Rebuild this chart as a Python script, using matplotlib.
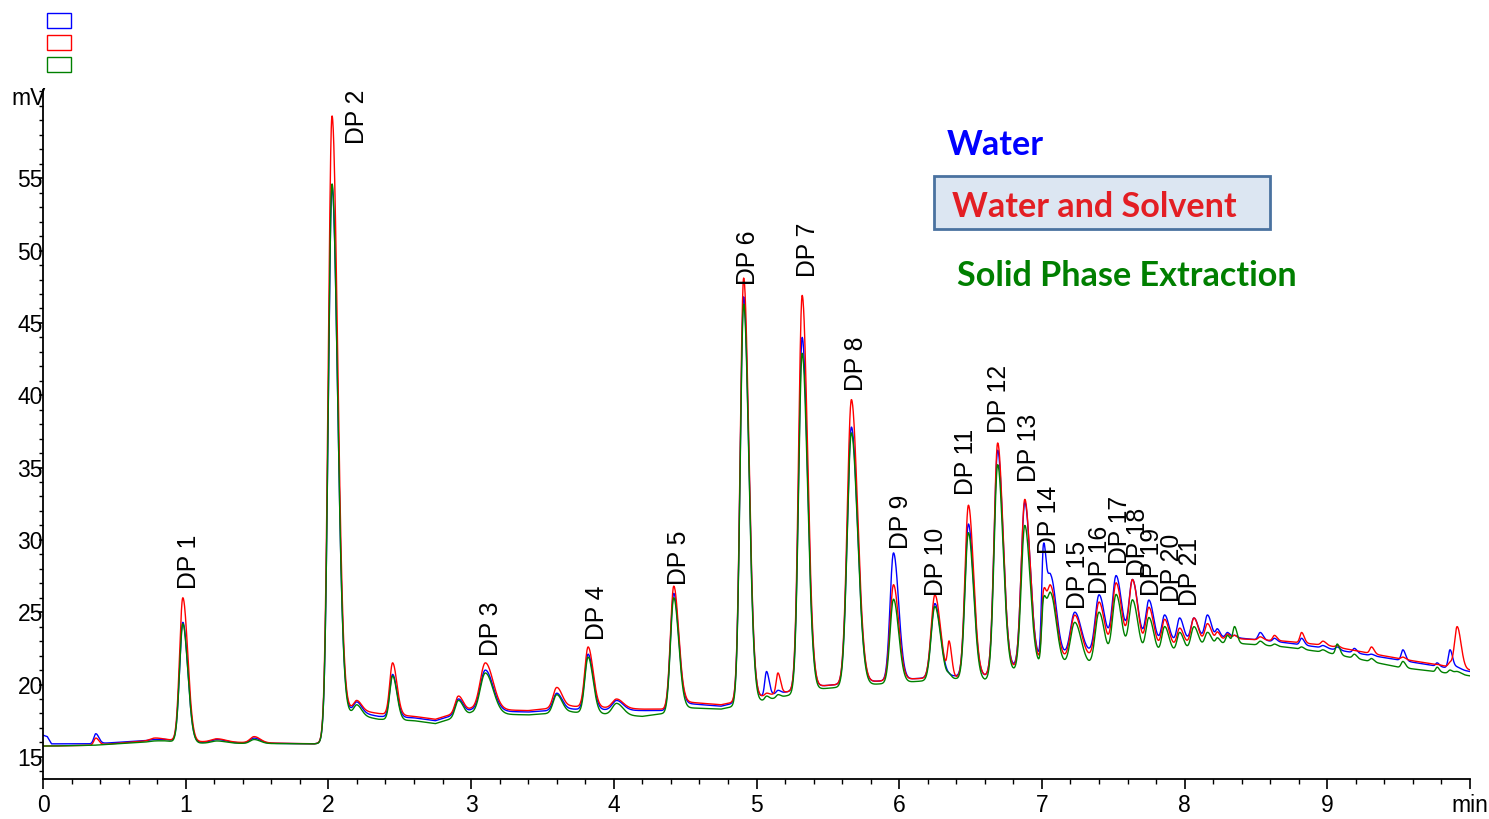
"""
Chromatogram overlay: water / water and solvent / solid phase extraction
"""
import matplotlib
matplotlib.use('Agg')
import matplotlib.pyplot as plt
from matplotlib.patches import Rectangle
from matplotlib.ticker import MultipleLocator, FixedLocator, FixedFormatter
import numpy as np

plt.rcParams['font.family'] = ['Liberation Sans', 'DejaVu Sans']

# baseline knots (min, mV) for each sample
base_t = [0.00, 0.03, 0.06, 0.35, 0.85, 1.10, 1.90, 1.97, 2.10, 2.35,
          2.60, 2.75, 2.85, 3.00, 3.40, 3.70, 4.20, 4.35, 4.50, 4.75,
          5.10, 5.45, 5.80, 6.10, 6.40, 6.60, 6.80, 6.97, 7.30, 7.45,
          7.90, 8.30, 8.70, 9.00, 9.50, 10.00]
base_water = [16.5, 16.4, 15.9, 15.9, 16.2, 16.0, 15.9, 16.0, 18.3, 17.8,
              17.7, 17.5, 17.8, 18.2, 18.1, 18.3, 18.2, 18.2, 18.7, 18.5,
              19.3, 19.9, 20.2, 20.4, 20.6, 20.6, 21.2, 21.7, 22.1, 22.4,
              22.9, 23.3, 22.9, 22.5, 21.7, 20.9]
base_solvent = [15.75, 15.75, 15.75, 15.8, 16.2, 16.05, 15.9, 16.0, 18.4, 18.0,
                17.8, 17.6, 17.9, 18.3, 18.2, 18.5, 18.3, 18.3, 18.8, 18.6,
                19.3, 19.9, 20.2, 20.4, 20.5, 20.6, 21.1, 21.5, 21.8, 22.0,
                22.6, 23.2, 23.0, 22.7, 21.8, 21.0]
base_spe = [15.75, 15.75, 15.75, 15.8, 16.1, 15.95, 15.9, 15.95, 18.1, 17.6,
            17.5, 17.3, 17.6, 18.0, 17.9, 18.1, 17.8, 18.0, 18.4, 18.3,
            19.0, 19.7, 20.0, 20.2, 20.4, 20.3, 20.9, 21.3, 21.3, 21.4,
            22.2, 22.9, 22.6, 22.2, 21.2, 20.6]

# peak table: retention time (min), width (min), apex (mV) per sample
peak_t = [0.37, 0.78, 0.98, 1.22, 1.48, 2.025, 2.20, 2.45, 2.91, 3.10,
          3.60, 3.82, 4.02, 4.42, 4.91, 5.07, 5.15, 5.32, 5.665, 5.96,
          6.25, 6.35, 6.485, 6.69, 6.88, 7.01, 7.06, 7.23, 7.40, 7.52,
          7.635, 7.75, 7.86, 7.965, 8.065, 8.16, 8.23, 8.30, 8.35, 8.53,
          8.63, 8.82, 8.97, 9.07, 9.19, 9.31, 9.53, 9.77, 9.86, 9.91]
peak_w = [0.014, 0.03, 0.023, 0.04, 0.028, 0.026, 0.022, 0.02, 0.022, 0.036,
          0.025, 0.023, 0.03, 0.023, 0.024, 0.012, 0.012, 0.025, 0.029, 0.024,
          0.026, 0.012, 0.024, 0.025, 0.025, 0.012, 0.027, 0.03, 0.026, 0.026,
          0.025, 0.022, 0.02, 0.018, 0.02, 0.018, 0.012, 0.012, 0.012, 0.014,
          0.012, 0.012, 0.014, 0.012, 0.012, 0.012, 0.012, 0.01, 0.012, 0.018]
apex_water = [16.6, 16.2, 24.3, 16.2, 16.3, 54.4, 18.8, 20.7, 19.0, 21.0,
              19.4, 22.1, 18.9, 26.3, 46.8, 20.9, 19.6, 44.0, 37.8, 29.1,
              25.6, 20.6, 31.1, 36.2, 32.6, 28.6, 27.5, 25.0, 26.2, 27.5,
              27.2, 25.8, 24.8, 24.6, 24.6, 24.8, 23.8, 23.6, 23.4, 23.6,
              23.2, 23.2, 22.7, 22.6, 22.5, 22.1, 22.4, 21.5, 22.4, 21.2]
apex_solvent = [16.3, 16.3, 26.0, 16.25, 16.4, 59.3, 18.9, 21.5, 19.2, 21.5,
                19.8, 22.6, 19.0, 26.8, 48.1, 19.4, 20.8, 46.9, 39.7, 26.9,
                26.2, 22.8, 32.4, 36.7, 32.8, 25.5, 26.8, 24.8, 25.7, 27.0,
                27.2, 25.3, 24.5, 23.9, 24.6, 24.2, 23.6, 23.5, 23.4, 23.3,
                23.4, 23.6, 23.0, 22.7, 22.3, 22.6, 21.9, 21.4, 21.5, 24.0]
apex_spe = [15.8, 16.1, 24.2, 16.1, 16.2, 54.6, 18.6, 20.6, 18.9, 20.8,
            19.3, 21.9, 18.7, 26.0, 46.3, 19.2, 19.3, 42.9, 37.4, 25.9,
            25.4, 20.6, 30.5, 35.2, 31.0, 25.0, 26.3, 24.3, 25.0, 26.2,
            25.8, 24.6, 24.0, 23.6, 24.0, 23.6, 23.2, 23.4, 24.0, 23.0,
            22.8, 22.6, 22.4, 22.8, 22.1, 21.8, 21.6, 21.2, 21.0, 20.9]

# DP labels: name, x (min), bottom of text (mV)
dp_names = ['DP 1', 'DP 2', 'DP 3', 'DP 4', 'DP 5', 'DP 6', 'DP 7', 'DP 8',
            'DP 9', 'DP 10', 'DP 11', 'DP 12', 'DP 13', 'DP 14', 'DP 15',
            'DP 16', 'DP 17', 'DP 18', 'DP 19', 'DP 20', 'DP 21']
dp_x = [1.02, 2.20, 3.14, 3.88, 4.46, 4.94, 5.36, 5.70, 6.01, 6.26, 6.47,
        6.70, 6.91, 7.05, 7.25, 7.41, 7.55, 7.67, 7.77, 7.91, 8.04]
dp_y = [26.6, 57.4, 22.0, 23.1, 26.9, 47.6, 48.2, 40.3, 29.4, 26.1, 33.1,
        37.4, 34.0, 29.0, 25.2, 26.25, 28.3, 27.5, 26.1, 25.7, 25.4]

x_ticks = [0, 1, 2, 3, 4, 5, 6, 7, 8, 9, 10]
x_tick_labels = ['0', '1', '2', '3', '4', '5', '6', '7', '8', '9', 'min']
y_ticks = [15, 20, 25, 30, 35, 40, 45, 50, 55]

series = [
    ('Water', base_water, apex_water, '#0000FF'),
    ('Water and Solvent', base_solvent, apex_solvent, '#FF0000'),
    ('Solid Phase Extraction', base_spe, apex_spe, '#008000'),
]


def trace(t, base, apex):
    """baseline plus tailed gaussian peaks"""
    y = np.interp(t, base_t, base)
    for t0, w, a in zip(peak_t, peak_w, apex):
        amp = a - np.interp(t0, base_t, base)
        if amp <= 0:
            continue
        s = np.where(t < t0, w, w * 1.5)
        y = y + amp * np.exp(-0.5 * ((t - t0) / s) ** 2)
    return y


W, H = 1489, 819
fig = plt.figure(figsize=(W / 100, H / 100), dpi=100)
ax = fig.add_axes([43 / W, 1 - 779 / H, 1427 / W, 689 / H])

t = np.linspace(0, 10, 5001)
for name, base, apex, color in series:
    ax.plot(t, trace(t, base, apex), color=color, linewidth=1.0)

ax.set_xlim(0, 10)
ax.set_ylim(13.47, 61.1)

for side in ['top', 'right']:
    ax.spines[side].set_visible(False)
for side in ['left', 'bottom']:
    ax.spines[side].set_linewidth(1.3)

ax.xaxis.set_major_locator(FixedLocator(x_ticks))
ax.xaxis.set_major_formatter(FixedFormatter(x_tick_labels))
ax.xaxis.set_minor_locator(MultipleLocator(0.2))
ax.yaxis.set_major_locator(FixedLocator(y_ticks))
ax.yaxis.set_minor_locator(MultipleLocator(1))
ax.tick_params(axis='x', which='major', length=7, width=1.2, labelsize=16.5, pad=4)
ax.tick_params(axis='x', which='minor', length=3.5, width=1.0)
ax.tick_params(axis='y', which='major', length=3, width=1.2, labelsize=16.5, pad=-3)
ax.tick_params(axis='y', which='minor', length=3, width=1.0)

ax.text(0.002, 60.5, 'mV', transform=ax.get_yaxis_transform(), ha='right',
        va='center', fontsize=16.5)

for name, x, y in zip(dp_names, dp_x, dp_y):
    ax.text(x, y, name, rotation=90, ha='center', va='bottom', fontsize=17.8)

# sample legend: empty coloured boxes in the corner
for i, (_, _, _, color) in enumerate(series):
    y0 = 13 + i * 22
    fig.add_artist(Rectangle((47 / W, 1 - (y0 + 15) / H), 24 / W, 15 / H,
                             transform=fig.transFigure, fill=False,
                             edgecolor=color, linewidth=1.0))

# sample names
fig.add_artist(Rectangle((934 / W, 1 - 229 / H), 336 / W, 53 / H,
                         transform=fig.transFigure, facecolor='#DCE6F2',
                         edgecolor='#4A72A0', linewidth=2))
fig.text(947 / W, 1 - 155 / H, 'Water', color='#0000FF', fontsize=24.6,
         fontweight='bold', family='Lato', va='baseline')
fig.text(952 / W, 1 - 217 / H, 'Water and Solvent', color='#E31E24',
         fontsize=24.6, fontweight='bold', family='Lato', va='baseline')
fig.text(957 / W, 1 - 286 / H, 'Solid Phase Extraction', color='#007F00',
         fontsize=24.6, fontweight='bold', family='Lato', va='baseline')

fig.savefig('out.png', dpi=100)
